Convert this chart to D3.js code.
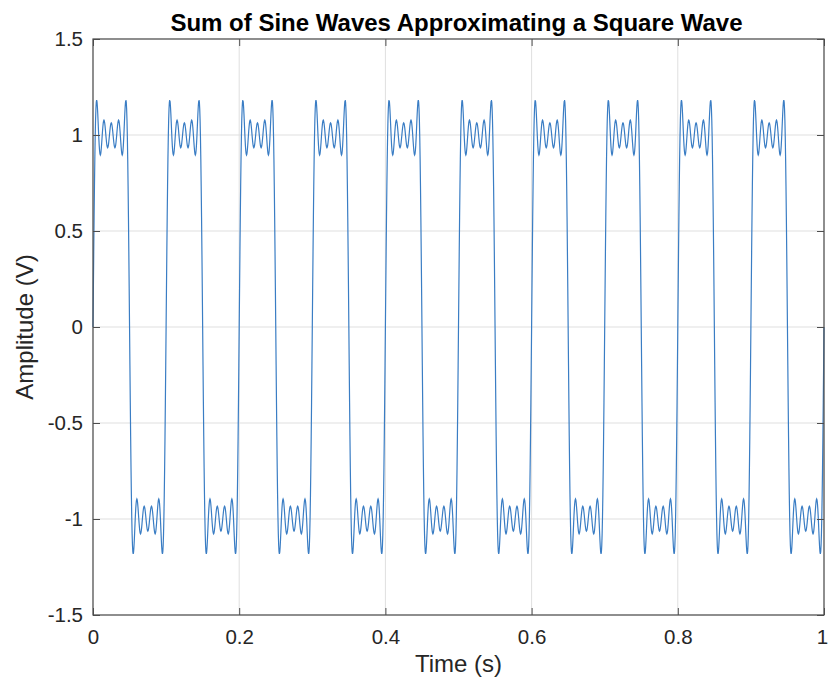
<!DOCTYPE html>
<html>
<head>
<meta charset="utf-8">
<script src="https://cdn.jsdelivr.net/npm/d3@7"></script>
<style>
  body { margin: 0; background: #fff; }
  svg { font-family: 'Liberation Sans', Arial, sans-serif; }
</style>
</head>
<body>
<div id="chart"></div>
<script>
// harmonic components (odd harmonics of a 10 Hz square wave)
const fundamentalHz = 10;
const harmonicOrders = [1, 3, 5, 7, 9];
const harmonicAmps = [1.2732, 0.4244, 0.2546, 0.1819, 0.1415];
const sampleStep = 0.0005;

const xTicks = [0, 0.2, 0.4, 0.6, 0.8, 1];
const yTicks = [-1.5, -1, -0.5, 0, 0.5, 1, 1.5];

const W = 828, H = 680;
const margin = {top: 39, right: 4, bottom: 65, left: 93};
const width = W - margin.left - margin.right;
const height = H - margin.top - margin.bottom;

const times = d3.range(0, 1 + sampleStep / 2, sampleStep);
const signal = times.map((t) => ({
  t,
  v: d3.sum(harmonicOrders, (k, i) => harmonicAmps[i] * Math.sin(2 * Math.PI * k * fundamentalHz * t)),
}));

const svg = d3.select('#chart').append('svg')
  .attr('width', W).attr('height', H);

const g = svg.append('g')
  .attr('transform', `translate(${margin.left},${margin.top})`);

const x = d3.scaleLinear().domain([0, 1]).range([0, width]);
const y = d3.scaleLinear().domain([-1.5, 1.5]).range([height, 0]);

// grid
g.append('g').selectAll('line').data(xTicks).join('line')
  .attr('x1', (d) => x(d)).attr('x2', (d) => x(d))
  .attr('y1', 0).attr('y2', height)
  .attr('stroke', '#dfdfdf').attr('stroke-width', 1);
g.append('g').selectAll('line').data(yTicks).join('line')
  .attr('y1', (d) => y(d)).attr('y2', (d) => y(d))
  .attr('x1', 0).attr('x2', width)
  .attr('stroke', '#dfdfdf').attr('stroke-width', 1);

// the wave
g.append('path')
  .datum(signal)
  .attr('fill', 'none')
  .attr('stroke', '#3a7dc4')
  .attr('stroke-width', 1.2)
  .attr('d', d3.line().x((d) => x(d.t)).y((d) => y(d.v)));

// axes, ticks pointing inward
const styleAxis = (sel) => {
  sel.select('.domain').remove();
  sel.selectAll('.tick line').attr('stroke', '#4d4d4d');
  sel.selectAll('.tick text').attr('fill', '#262626').style('font-size', '20.5px');
};
const fmt = (d) => String(d);

const xAxis = g.append('g').attr('transform', `translate(0,${height})`)
  .call(d3.axisBottom(x).tickValues(xTicks).tickFormat(fmt).tickSizeInner(-7).tickPadding(14))
  .call(styleAxis);
// keep the last label inside the window
xAxis.selectAll('.tick text').filter((d) => d === 1).attr('dx', '-2');

g.append('g')
  .call(d3.axisTop(x).tickValues(xTicks).tickFormat('').tickSizeInner(-7))
  .call(styleAxis);
g.append('g')
  .call(d3.axisLeft(y).tickValues(yTicks).tickFormat(fmt).tickSizeInner(-7).tickPadding(10))
  .call(styleAxis);
g.append('g').attr('transform', `translate(${width},0)`)
  .call(d3.axisRight(y).tickValues(yTicks).tickFormat('').tickSizeInner(-7))
  .call(styleAxis);

// box
g.append('rect')
  .attr('width', width).attr('height', height)
  .attr('fill', 'none').attr('stroke', '#4d4d4d').attr('stroke-width', 1.2);

// labels
svg.append('text')
  .attr('x', margin.left + width / 2 - 2).attr('y', 31)
  .attr('text-anchor', 'middle')
  .style('font-size', '24px').style('font-weight', 'bold').attr('fill', '#000')
  .text('Sum of Sine Waves Approximating a Square Wave');

svg.append('text')
  .attr('x', margin.left + width / 2).attr('y', 672)
  .attr('text-anchor', 'middle')
  .style('font-size', '24px').attr('fill', '#262626')
  .text('Time (s)');

svg.append('text')
  .attr('transform', `translate(33,${margin.top + height / 2}) rotate(-90)`)
  .attr('text-anchor', 'middle')
  .style('font-size', '24px').attr('fill', '#262626')
  .text('Amplitude (V)');
</script>
</body>
</html>
